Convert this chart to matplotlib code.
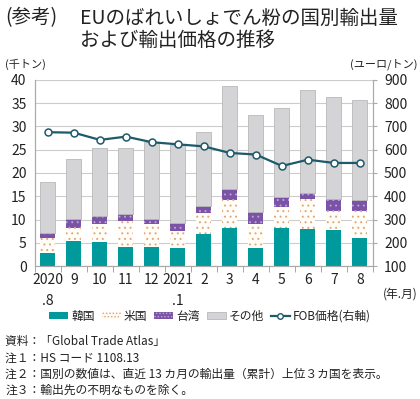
import matplotlib.pyplot as plt
from matplotlib.patches import Patch
from matplotlib.lines import Line2D
import numpy as np

plt.rcParams['font.family'] = ['Noto Sans CJK JP', 'DejaVu Sans']

# months 2020.8 - 2021.8
labels = ['2020\n.8', '9', '10', '11', '12', '2021\n.1', '2', '3', '4', '5', '6', '7', '8']
korea  = [2.9, 5.3, 5.1, 4.2, 4.2, 3.9, 7.0, 8.2, 3.8, 8.2, 7.9, 7.7, 6.1]
usa    = [3.2, 2.8, 3.9, 5.5, 4.9, 3.6, 4.3, 6.1, 5.3, 4.4, 6.5, 4.2, 5.7]
taiwan = [1.0, 2.1, 1.8, 1.4, 1.0, 1.8, 1.6, 2.3, 2.5, 2.2, 1.4, 2.5, 2.3]
total  = [18.0, 23.0, 25.3, 25.3, 26.6, 26.0, 28.9, 38.6, 32.4, 33.9, 37.9, 36.3, 35.6]
fob    = [675, 673, 642, 656, 632, 623, 614, 586, 579, 530, 557, 543, 543]

korea = np.array(korea)
usa = np.array(usa)
taiwan = np.array(taiwan)
other = np.array(total) - korea - usa - taiwan

c_kor = '#009a9c'
c_us_dot = '#e2a67a'
c_tw = '#7a52a6'
c_oth = '#d4d4d6'
c_line = '#1d5a6b'
c_txt = '#222222'

plt.rcParams['hatch.linewidth'] = 0.7

fig = plt.figure(figsize=(4.2, 3.99), dpi=100)
ax = fig.add_axes([0.083, 0.333, 0.805, 0.467])
x = np.arange(len(labels))
w = 0.58

ax.bar(x, korea, w, color=c_kor, lw=0, zorder=2)
b1 = korea
ax.bar(x, usa, w, bottom=b1, color='#fffdf8', lw=0, zorder=2)
ax.bar(x, usa, w, bottom=b1, facecolor='none', edgecolor=c_us_dot, hatch='...', lw=0, zorder=2)
b2 = b1 + usa
ax.bar(x, taiwan, w, bottom=b2, color=c_tw, lw=0, zorder=2)
ax.bar(x, taiwan, w, bottom=b2, facecolor='none', edgecolor='#b9a3d6', hatch='...', lw=0, zorder=2)
b3 = b2 + taiwan
ax.bar(x, other, w, bottom=b3, color=c_oth, edgecolor='#b8b8ba', lw=0.6, zorder=2)

ax.set_ylim(0, 40)
ax.set_yticks(range(0, 41, 5))
ax.set_xlim(-0.5, len(labels) - 0.5)
ax.set_xticks(x)
ax.set_xticklabels(labels, fontsize=10, linespacing=1.6, va='top')
ax.set_xticks(np.arange(-0.5, len(labels), 1), minor=True)
ax.tick_params(axis='x', which='major', length=0, pad=5, labelcolor=c_txt)
ax.tick_params(axis='x', which='minor', length=4, color='#999999')
ax.tick_params(axis='y', length=0, labelsize=10, pad=6, labelcolor=c_txt)
ax.grid(axis='y', color='#cccccc', lw=0.8, zorder=0)
ax.set_axisbelow(True)
ax.spines['top'].set_visible(False)
for s in ['left', 'right', 'bottom']:
    ax.spines[s].set_color('#aaaaaa')

ax2 = ax.twinx()
ax2.plot(x, fob, color=c_line, lw=1.6, marker='o', ms=5, mfc='white', mec=c_line, mew=1.1, zorder=5)
ax2.set_ylim(100, 900)
ax2.set_yticks(range(100, 901, 100))
ax2.tick_params(axis='y', length=3, color='#aaaaaa', labelsize=10, pad=5, labelcolor=c_txt)
ax2.spines['top'].set_visible(False)
for s in ['left', 'right', 'bottom']:
    ax2.spines[s].set_color('#aaaaaa')

fig.text(0.012, 0.955, '(参考)', fontsize=14, va='center', color=c_txt)
fig.text(0.19, 0.955, 'EUのばれいしょでん粉の国別輸出量', fontsize=14, va='center', color=c_txt)
fig.text(0.19, 0.898, 'および輸出価格の推移', fontsize=14, va='center', color=c_txt)
fig.text(0.012, 0.838, '(千トン)', fontsize=8, va='center', color=c_txt)
fig.text(0.995, 0.838, '(ユーロ/トン)', fontsize=8, va='center', ha='right', color=c_txt)
fig.text(0.995, 0.262, '(年.月)', fontsize=8.5, va='center', ha='right', color=c_txt)

handles = [
    Patch(facecolor=c_kor, lw=0),
    Patch(facecolor='#fffdf8', edgecolor=c_us_dot, hatch='.....', lw=0),
    Patch(facecolor=c_tw, edgecolor='#b9a3d6', hatch='.....', lw=0),
    Patch(facecolor=c_oth, edgecolor='#b8b8ba', lw=0.6),
    Line2D([], [], color=c_line, lw=1.6, marker='o', ms=4, mfc='white', mec=c_line),
]
names = ['韓国', '米国', '台湾', 'その他', 'FOB価格(右軸)']
fig.legend(handles, names, loc='center', bbox_to_anchor=(0.5, 0.208), ncol=5, frameon=False,
           fontsize=8.5, handlelength=1.6, handleheight=0.5, handletextpad=0.25, columnspacing=0.6,
           labelcolor=c_txt)

notes = ['資料：「Global Trade Atlas」',
         '注１：HS コード 1108.13',
         '注２：国別の数値は、直近 13 カ月の輸出量（累計）上位３カ国を表示。',
         '注３：輸出先の不明なものを除く。']
for i, t in enumerate(notes):
    fig.text(0.012, 0.143 - i * 0.04, t, fontsize=8.5, va='center', color=c_txt)

fig.savefig('out.png', dpi=100)
